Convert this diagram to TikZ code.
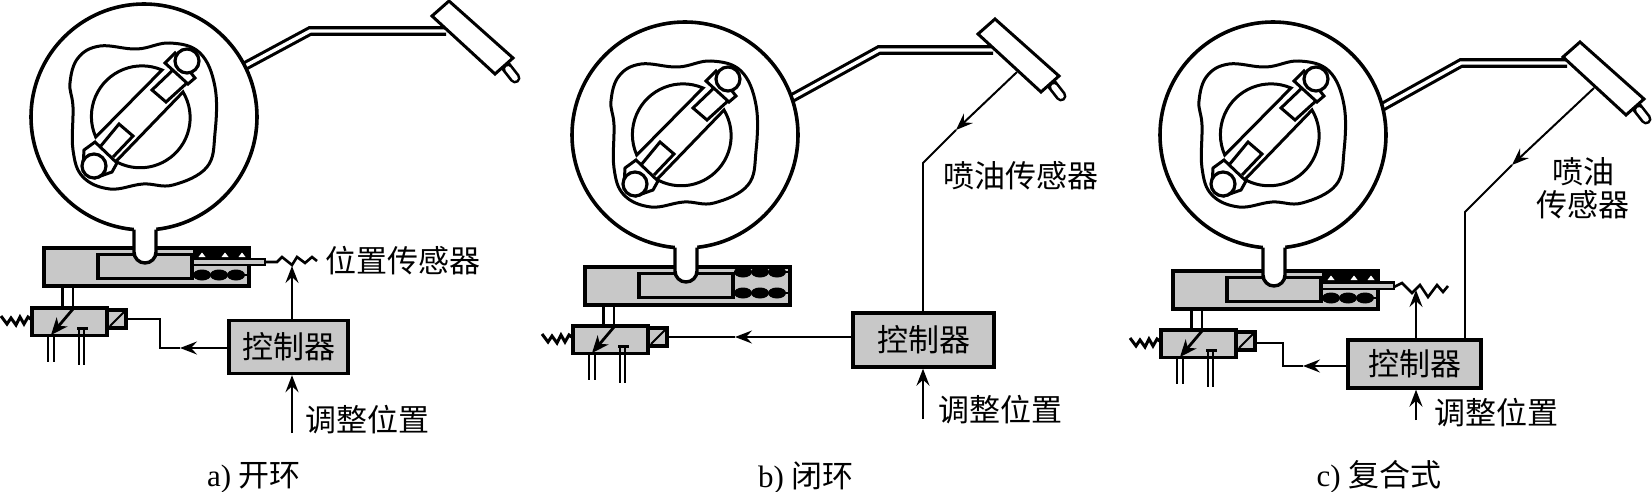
\documentclass[tikz,border=0pt]{standalone}
\usepackage{fontspec}
\setmainfont{Liberation Serif}
\newfontfamily\cjk{Noto Sans CJK SC}
\usetikzlibrary{arrows.meta,calc}
\definecolor{gr}{HTML}{C8C8C8}
\tikzset{
  ln/.style={line width=3pt,line join=miter},
  thickln/.style={line width=3.8pt},
  wire/.style={line width=1.9pt},
  flow/.style={line width=2pt,-{Stealth[length=17pt,width=13pt,inset=6pt]}},
  ctrl/.style={draw,fill=gr,line width=3.4pt,inner sep=0pt,font=\cjk\fontsize{31}{33}\selectfont},
  lab/.style={inner sep=0pt,font=\cjk\fontsize{31}{37}\selectfont},
  captxt/.style={inner sep=0pt,font=\fontsize{31}{37}\selectfont},
}
\newcommand{\headpart}{%
  \draw[line width=3.6pt,fill=white] (144,117) circle[radius=113];
  \draw[ln] plot[smooth cycle,tension=.65] coordinates {(70,83)(78,58)(100,46)(137,49)(170,43)(200,53)(215,87)(215,133)(207,167)(173,185)(143,184)(110,189)(83,177)(73,150)(73,107)};
  \draw[ln] (162,70) arc[start angle=-66.7,end angle=-204,radius=50.6] -- cycle;
  \draw[ln] (183,92) arc[start angle=-31,end angle=119,radius=50] -- cycle;
  \draw[ln,fill=white] (100,147)--(119,124)--(133,136)--(113,157);
  \draw[ln,fill=white] (175,68)--(152,90)--(166,102)--(188,82);
  \draw[ln,fill=white] (84,150)--(95,142)--(117,163)--(112,172)--(95,178)--(83,168)--cycle;
  \draw[ln,fill=white] (165,63)--(175,53)--(195,78)--(188,84)--cycle;
  \draw[line width=3.2pt,fill=white] (94,166) circle[radius=12];
  \draw[line width=3.2pt,fill=white] (187,61) circle[radius=12];
}
\newcommand{\injpart}{%
  \draw[line width=11pt,line cap=round] (504,64)--(515,78);
  \draw[line width=5.6pt,white,line cap=round] (508,69)--(515,78);
  \draw[ln,fill=white] (449,1)--(432,16)--(495,74)--(513,58)--cycle;
}
\newcommand{\pipepart}[3]{%
  \draw[line width=9.6pt,line join=miter] #1--#2--#3;
  \draw[line width=3.4pt,white,line join=miter] #1--#2--#3;
}
% #1 = stem top, local
\newcommand{\cylpart}[1]{%
  \draw[thickln,fill=gr] (44,248) rectangle (249,286);
  \draw[thickln,fill=gr] (98,254.5) rectangle (192,278.5);
  \fill[white] (134,{#1-4}) -- (134,252) arc[start angle=180,end angle=0,radius=11] -- (156,{#1-4}) -- cycle;
  \draw[line width=3.4pt] (134,#1) -- (134,252) arc[start angle=180,end angle=0,radius=11] -- (156,#1);
}
\newcommand{\blobrow}[1]{%
  \draw[line width=2.4pt] (193,#1) -- (248,#1);
  \fill (202,#1) ellipse[x radius=9,y radius=5.5];
  \fill (219,#1) ellipse[x radius=9,y radius=5.5];
  \fill (236,#1) ellipse[x radius=9,y radius=5.5];
}
\newcommand{\toprow}{%
  \fill (193,248) rectangle (249,258);
  \fill[white] (202,252.5)--(205.5,257)--(198.5,257)--cycle;
  \fill[white] (225,252.5)--(228.5,257)--(221.5,257)--cycle;
  \fill[white] (242,252.5)--(245.5,257)--(238.5,257)--cycle;
}
\newcommand{\valvepart}{%
  \draw[line width=3pt] (62,286)--(62,308);
  \draw[line width=2.4pt] (73,286)--(73,308);
  \draw[thickln,fill=gr] (32,308) rectangle (107,335.5);
  \draw[line width=3.2pt,fill=gr] (107,310) rectangle (126,328);
  \draw[line width=2pt] (110,326)--(124,312);
  \draw[line width=2.4pt] (48,336)--(48,362) (54,336)--(54,362) (79,329)--(79,365) (84,329)--(84,365);
  \draw[line width=2.4pt] (77,328.5)--(88,328.5);
  \draw[line width=2.8pt,-{Stealth[length=17pt,width=14pt,inset=5pt]}] (73,309)--(51,335);
  \draw[line width=3pt] (1,316)--(7,324)--(11,318)--(16,325)--(20,317)--(24,324)--(28,317)--(32,320);
}
\begin{document}
\begin{tikzpicture}[x=1pt,y=-1pt]
\useasboundingbox (0,0) rectangle (1652,492);
% ---- panel a
\pipepart{(245,66)}{(310,31)}{(446,31)}
\headpart
\begin{scope}\injpart\end{scope}
\cylpart{229.5}
\toprow\blobrow{275}
\draw[line width=2.6pt,fill=gr] (193,259) rectangle (265,265);
\draw[line width=2.6pt] (265,262)--(277,262)--(282,257)--(292,265)--(297,257)--(305,263)--(312,257)--(317,261);
\valvepart
\node[ctrl,minimum width=119pt,minimum height=53pt] (ca) at (288.5,347) {控制器};
\node[lab] (ta) at (367,420) {调整位置};
\node[lab] (sa) at (403,261) {位置传感器};
\node[captxt] (capa) at (254,478) {a) {\cjk 开环}};
\coordinate (ia) at (292,433);
\coordinate (pa) at (292,266);
\coordinate (soa) at (127,319);
\coordinate (ea) at (160,319);
\coordinate (fa) at (160,348);
\coordinate (ma) at (180,348);
\draw[flow] (ia) -- (ca.south -| ia);
\draw[flow] (ca.north -| ia) -- (pa);
\draw[flow] (ca.west |- ma) -- (ma);
\draw[wire] (ma) -- (fa) -- (ea) -- (soa);
% ---- panel b
\begin{scope}[shift={(541,18)}]
\pipepart{(251,80)}{(338,32)}{(452,32)}
\headpart
\end{scope}
\begin{scope}[shift={(546,18)}]\injpart\end{scope}
\begin{scope}[shift={(541,19)}]
\cylpart{228.5}
\blobrow{253}\blobrow{274}
\end{scope}
\begin{scope}[shift={(541,18)}]\valvepart\end{scope}
\node[ctrl,minimum width=141pt,minimum height=54pt] (cb) at (923.5,340) {控制器};
\node[lab] (tb) at (1000,410) {调整位置};
\node[lab] (sb) at (1021,176) {喷油传感器};
\node[captxt] (capb) at (806,478) {b) {\cjk 闭环}};
\coordinate (ib) at (923,419);
\coordinate (ub) at (923,163);
\coordinate (jb) at (1017,72);
\coordinate (mb) at (956,130);
\coordinate (sob) at (667,337);
\coordinate (nb) at (735,337);
\draw[flow] (ib) -- (cb.south -| ib);
\draw[flow] (jb) -- (mb);
\draw[wire] (mb) -- (ub) -- (cb.north -| ub);
\draw[flow] (cb.west |- nb) -- (nb);
\draw[wire] (nb) -- (sob);
% ---- panel c
\begin{scope}[shift={(1129,18)}]
\pipepart{(253,89)}{(332,45)}{(438,45)}
\headpart
\end{scope}
\begin{scope}[shift={(1131,41)}]\injpart\end{scope}
\begin{scope}[shift={(1129,23)}]
\cylpart{224.5}
\toprow\blobrow{275}
\draw[line width=2.6pt,fill=gr] (193,259.5) rectangle (265,266);
\draw[line width=2.6pt] (265,264)--(273,260)--(283,270)--(291,262)--(299,274)--(308,262)--(314,269)--(319,263);
\end{scope}
\begin{scope}[shift={(1129,22)}]\valvepart\end{scope}
\node[ctrl,minimum width=133pt,minimum height=48pt] (cc) at (1414.5,364) {控制器};
\node[lab] (tc) at (1496,413) {调整位置};
\node[lab] (sc1) at (1583,172) {喷油};
\node[lab] (sc2) at (1583,205) {传感器};
\node[captxt] (capc) at (1379,477) {c) {\cjk 复合式}};
\coordinate (ic) at (1416,420);
\coordinate (pc) at (1416,290);
\coordinate (uc) at (1465,212);
\coordinate (jc) at (1594,88);
\coordinate (mc) at (1512,165);
\coordinate (soc) at (1255,343);
\coordinate (ec) at (1283,343);
\coordinate (fc) at (1283,366);
\coordinate (nc) at (1303,366);
\draw[flow] (ic) -- (cc.south -| ic);
\draw[flow] (cc.north -| pc) -- (pc);
\draw[flow] (jc) -- (mc);
\draw[wire] (mc) -- (uc) -- (cc.north -| uc);
\draw[flow] (cc.west |- nc) -- (nc);
\draw[wire] (nc) -- (fc) -- (ec) -- (soc);
\end{tikzpicture}
\end{document}
